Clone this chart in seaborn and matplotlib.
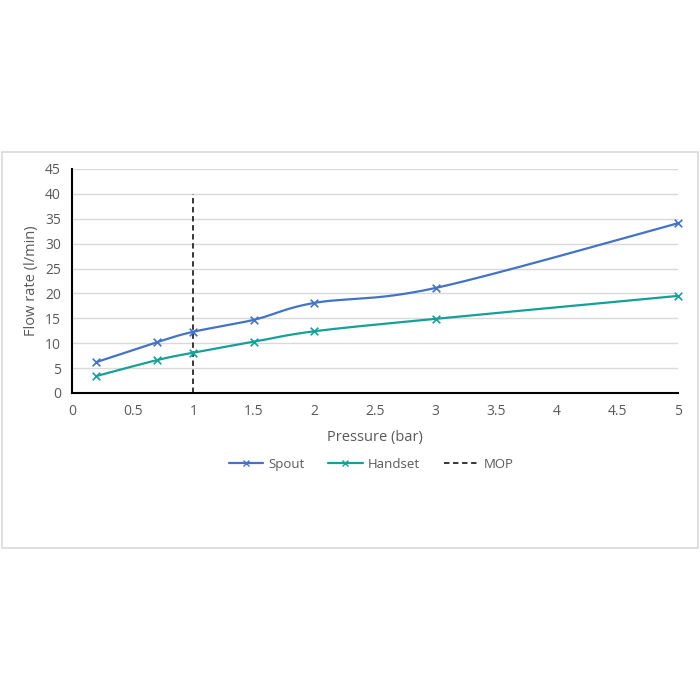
import numpy as np
import pandas as pd
import matplotlib
matplotlib.use("Agg")
import matplotlib.pyplot as plt
from matplotlib.patches import Rectangle
from matplotlib.lines import Line2D
import seaborn as sns

pressure = [0.2, 0.7, 1.0, 1.5, 2.0, 3.0, 5.0]
spout = [6.2, 10.2, 12.3, 14.7, 18.1, 21.1, 34.1]
handset = [3.4, 6.6, 8.1, 10.3, 12.4, 14.9, 19.5]
mop_x = [1.0, 1.0]
mop_y = [0.0, 40.0]
x_ticks = [0, 0.5, 1, 1.5, 2, 2.5, 3, 3.5, 4, 4.5, 5]
y_ticks = [0, 5, 10, 15, 20, 25, 30, 35, 40, 45]

SPOUT_C = "#4472C4"
HAND_C = "#16A09A"
TXT = "#595959"


def smooth(x, y, n=30):
    # Catmull-Rom style smoothing similar to spreadsheet smoothed lines
    x = np.asarray(x, float); y = np.asarray(y, float)
    xs, ys = [], []
    for i in range(len(x) - 1):
        p0 = (x[i - 1], y[i - 1]) if i > 0 else (x[i], y[i])
        p1 = (x[i], y[i]); p2 = (x[i + 1], y[i + 1])
        p3 = (x[i + 2], y[i + 2]) if i + 2 < len(x) else (x[i + 1], y[i + 1])
        c1 = (p1[0] + (p2[0] - p0[0]) / 6, p1[1] + (p2[1] - p0[1]) / 6)
        c2 = (p2[0] - (p3[0] - p1[0]) / 6, p2[1] - (p3[1] - p1[1]) / 6)
        t = np.linspace(0, 1, n, endpoint=(i == len(x) - 2))
        bx = (1-t)**3*p1[0] + 3*(1-t)**2*t*c1[0] + 3*(1-t)*t**2*c2[0] + t**3*p2[0]
        by = (1-t)**3*p1[1] + 3*(1-t)**2*t*c1[1] + 3*(1-t)*t**2*c2[1] + t**3*p2[1]
        xs.extend(bx); ys.extend(by)
    return np.array(xs), np.array(ys)


sns.set_theme(style="white")
plt.rcParams["font.family"] = ["Open Sans", "DejaVu Sans"]

fig = plt.figure(figsize=(7, 7), dpi=100)
fig.patch.set_facecolor("white")
fig.add_artist(Rectangle((0.003, 0.217), 0.994, 0.566, transform=fig.transFigure,
                         fill=False, edgecolor="#D9D9D9", linewidth=1.2))

ax = fig.add_axes([0.103, 0.4386, 0.8656, 0.32])

for vals, col in [(spout, SPOUT_C), (handset, HAND_C)]:
    sx, sy = smooth(pressure, vals)
    sns.lineplot(x=sx, y=sy, ax=ax, color=col, linewidth=1.6, sort=False, estimator=None)
    sns.scatterplot(x=pressure, y=vals, ax=ax, color=col, marker="x", s=30,
                    linewidth=1.2, zorder=5, clip_on=False)

sns.lineplot(x=mop_x, y=mop_y, ax=ax, color="#262626", linewidth=1.3,
             linestyle=(0, (3, 2)), estimator=None)

ax.set_xlim(0, 5)
ax.set_ylim(0, 45)
ax.set_xticks(x_ticks)
ax.set_xticklabels([f"{v:g}" for v in x_ticks])
ax.set_yticks(y_ticks)
ax.grid(axis="y", color="#D9D9D9", linewidth=1)
ax.grid(axis="x", visible=False)
ax.set_axisbelow(True)
for s in ["top", "right"]:
    ax.spines[s].set_visible(False)
for s in ["left", "bottom"]:
    ax.spines[s].set_color("black")
    ax.spines[s].set_linewidth(1.5)
ax.tick_params(axis="both", length=0, labelsize=10, colors=TXT, pad=8)
ax.set_xlabel("Pressure (bar)", fontsize=10.5, color=TXT, labelpad=8)
ax.set_ylabel("Flow rate (l/min)", fontsize=10.5, color=TXT, labelpad=4)

handles = [
    Line2D([], [], color=SPOUT_C, lw=1.6, marker="x", markersize=5),
    Line2D([], [], color=HAND_C, lw=1.6, marker="x", markersize=5),
    Line2D([], [], color="#262626", lw=1.3, linestyle=(0, (3, 2))),
]
fig.legend(handles, ["Spout", "Handset", "MOP"], loc="center",
           bbox_to_anchor=(0.53, 0.337), ncol=3, frameon=False,
           fontsize=9.5, labelcolor=TXT, handlelength=2.6, columnspacing=1.8,
           handletextpad=0.4)

fig.savefig("out.png", dpi=100, facecolor="white")
